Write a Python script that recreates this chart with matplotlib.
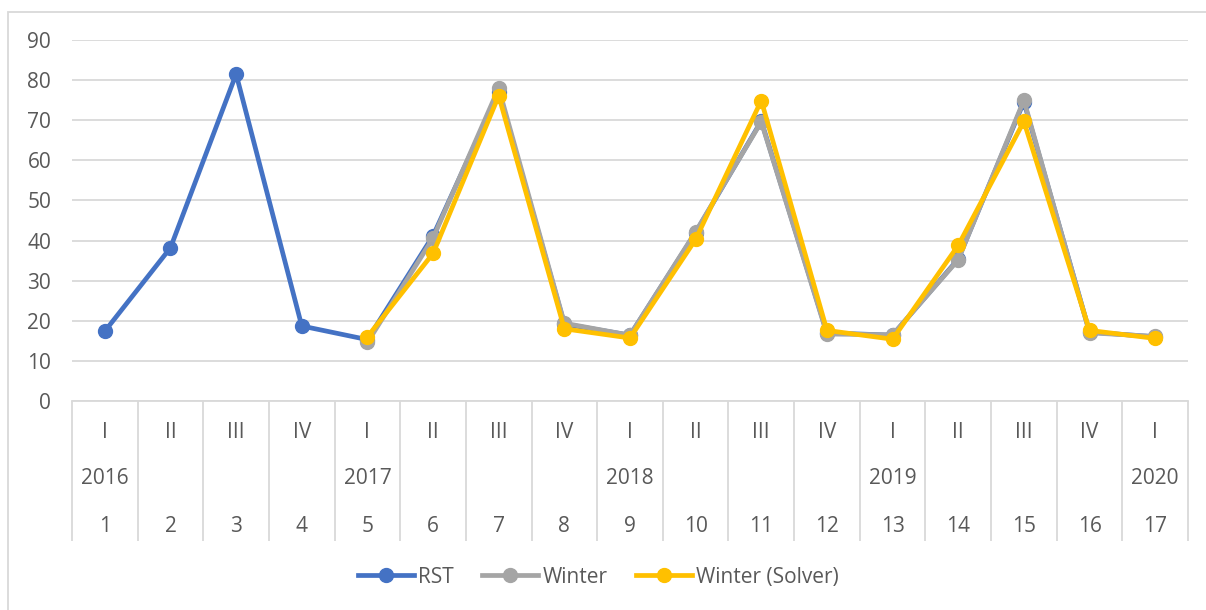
import matplotlib
matplotlib.use("Agg")
import matplotlib.pyplot as plt
from matplotlib.patches import Rectangle
from matplotlib.transforms import blended_transform_factory

# data
periods = list(range(1, 18))
quarters = ["I", "II", "III", "IV", "I", "II", "III", "IV", "I",
            "II", "III", "IV", "I", "II", "III", "IV", "I"]
years = ["2016", "", "", "", "2017", "", "", "", "2018",
         "", "", "", "2019", "", "", "", "2020"]
rst = [17.4, 38.2, 81.5, 18.7, 15.3, 41.2, 77.0, 19.2, 16.4,
       42.0, 69.8, 17.0, 16.4, 35.4, 74.6, 17.2, 16.0]
winter = [None, None, None, None, 14.6, 40.6, 78.0, 19.4, 16.4,
          42.2, 69.6, 16.7, 16.5, 35.2, 75.0, 17.0, 16.1]
winter_solver = [None, None, None, None, 16.0, 36.8, 76.1, 18.0, 15.7,
                 40.3, 74.9, 17.6, 15.4, 38.8, 69.7, 17.6, 15.6]
y_ticks = list(range(0, 100, 10))

TEXT = "#595959"
GRID = "#D9D9D9"
FS = 15
plt.rcParams["font.family"] = ["Open Sans", "DejaVu Sans"]

fig = plt.figure(figsize=(12.06, 6.10), dpi=100)
ax = fig.add_axes([72 / 1206, 1 - 401 / 610, (1188 - 72) / 1206, 361 / 610])

x = list(range(len(periods)))
line_kw = dict(linewidth=3.4, marker="o", markersize=10, solid_joinstyle="round")
ax.plot(x, rst, color="#4472C4", label="RST", **line_kw)
w_x = [i for i, v in zip(x, winter) if v is not None]
ax.plot(w_x, [v for v in winter if v is not None], color="#A5A5A5", label="Winter", **line_kw)
ax.plot(w_x, [v for v in winter_solver if v is not None], color="#FFC000",
        label="Winter (Solver)", **line_kw)

ax.set_xlim(-0.5, len(periods) - 0.5)
ax.set_ylim(0, 90)
ax.set_yticks(y_ticks)
ax.yaxis.grid(True, color=GRID, linewidth=1.3)
ax.set_axisbelow(True)
for s in ["top", "right", "left"]:
    ax.spines[s].set_visible(False)
ax.spines["bottom"].set_color(GRID)
ax.spines["bottom"].set_linewidth(1.3)
ax.tick_params(axis="y", length=0, labelsize=FS, labelcolor=TEXT, pad=15)
ax.set_xticks([])

# multi-level category axis drawn as a table below the plot
trans = blended_transform_factory(ax.transData, ax.transAxes)
depth = -(541 - 401) / 361
ax.vlines([i - 0.5 for i in range(len(periods) + 1)], depth, 0, transform=trans,
          colors=GRID, linewidth=1.3, clip_on=False)
for i in x:
    ax.text(i, -(433 - 401) / 361, quarters[i], transform=trans, ha="center",
            va="center", fontsize=FS, color=TEXT)
    ax.text(i, -(479 - 401) / 361, years[i], transform=trans, ha="center",
            va="center", fontsize=FS, color=TEXT)
    ax.text(i, -(526 - 401) / 361, str(periods[i]), transform=trans, ha="center",
            va="center", fontsize=FS, color=TEXT)

leg = fig.legend(loc="center", bbox_to_anchor=(0.496, 0.054), ncol=3, frameon=False,
                 fontsize=FS, handlelength=2.7, columnspacing=1.35, handletextpad=0.2)
for t in leg.get_texts():
    t.set_color(TEXT)

# chart frame (left and top edges visible in the reference)
fig.patches.append(Rectangle((8 / 1206, -0.01), 1.0, 1 - 12 / 610 + 0.01,
                             transform=fig.transFigure, fill=False,
                             edgecolor=GRID, linewidth=1.3))

fig.savefig("out.png", dpi=100)
